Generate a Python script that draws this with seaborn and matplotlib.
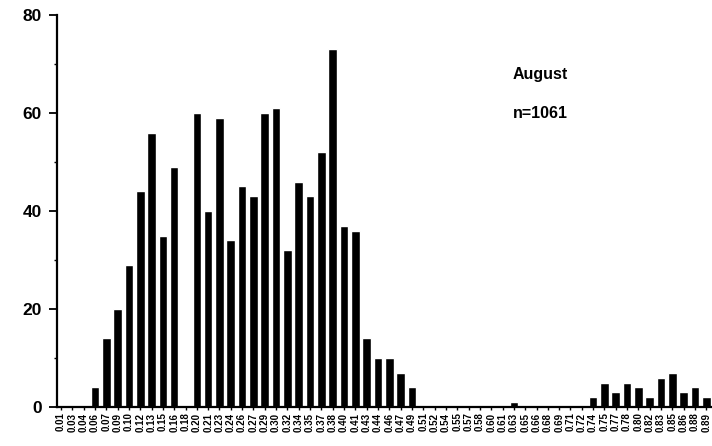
import matplotlib
matplotlib.use("Agg")
import matplotlib.pyplot as plt
import seaborn as sns
import pandas as pd
from matplotlib.ticker import MultipleLocator

size_labels = ["0.01", "0.03", "0.04", "0.06", "0.07", "0.09", "0.10", "0.12", "0.13", "0.15",
               "0.16", "0.18", "0.20", "0.21", "0.23", "0.24", "0.26", "0.27", "0.29", "0.30",
               "0.32", "0.34", "0.35", "0.37", "0.38", "0.40", "0.41", "0.43", "0.44", "0.46",
               "0.47", "0.49", "0.51", "0.52", "0.54", "0.55", "0.57", "0.58", "0.60", "0.61",
               "0.63", "0.65", "0.66", "0.68", "0.69", "0.71", "0.72", "0.74", "0.75", "0.77",
               "0.78", "0.80", "0.82", "0.83", "0.85", "0.86", "0.88", "0.89"]
counts = [0, 0, 0, 4, 14, 20, 29, 44, 56, 35,
          49, 0, 60, 40, 59, 34, 45, 43, 60, 61,
          32, 46, 43, 52, 73, 37, 36, 14, 10, 10,
          7, 4, 0, 0, 0, 0, 0, 0, 0, 0,
          1, 0, 0, 0, 0, 0, 0, 2, 5, 3,
          5, 4, 2, 6, 7, 3, 4, 2]
y_ticks = [0, 20, 40, 60, 80]
title_month = "August"
title_n = "n=1061"

sns.set_style("ticks")
plt.rcParams['font.family'] = ['Liberation Sans', 'DejaVu Sans']
plt.rcParams['font.weight'] = 'bold'
plt.rcParams['text.color'] = 'black'
plt.rcParams['xtick.color'] = 'black'
plt.rcParams['ytick.color'] = 'black'

df = pd.DataFrame({"size": size_labels, "count": counts})

fig = plt.figure(figsize=(7.12, 4.46), dpi=100)
ax = fig.add_axes([57 / 712, 1 - 407 / 446, (712 - 57) / 712, (407 - 15) / 446])
sns.barplot(data=df, x="size", y="count", color="black", width=0.76,
            saturation=1, ax=ax, order=size_labels)

ax.set_xlim(-0.35, 57.5)
ax.set_ylim(0, 80)
ax.set_yticks(y_ticks)
ax.set_yticklabels([str(v) for v in y_ticks], fontsize=12.5, fontweight='bold', color='black')
ax.yaxis.set_minor_locator(MultipleLocator(10))
ax.tick_params(axis='y', which='major', length=6, width=1.3, direction='out', pad=5,
               colors='black', labelcolor='black')
ax.tick_params(axis='y', which='minor', length=2, width=1, direction='out', colors='black')
ax.tick_params(axis='x', which='major', length=2, width=1, direction='out', pad=2,
               colors='black', labelcolor='black')
for lab in ax.get_xticklabels():
    lab.set_rotation(90)
    lab.set_fontsize(7)
    lab.set_fontweight('bold')
    lab.set_color('black')

ax.set_xlabel("")
ax.set_ylabel("")
sns.despine(ax=ax, top=True, right=True)
ax.spines['left'].set_linewidth(1.6)
ax.spines['bottom'].set_linewidth(1.6)
ax.spines['left'].set_color('black')
ax.spines['bottom'].set_color('black')

ax.text(540 / 712, 1 - 75 / 446, title_month, transform=fig.transFigure,
        ha='center', va='center', fontsize=11.5, fontweight='bold', color='black')
ax.text(540 / 712, 1 - 113 / 446, title_n, transform=fig.transFigure,
        ha='center', va='center', fontsize=11.5, fontweight='bold', color='black')

fig.savefig("out.png", dpi=100, facecolor='white')
